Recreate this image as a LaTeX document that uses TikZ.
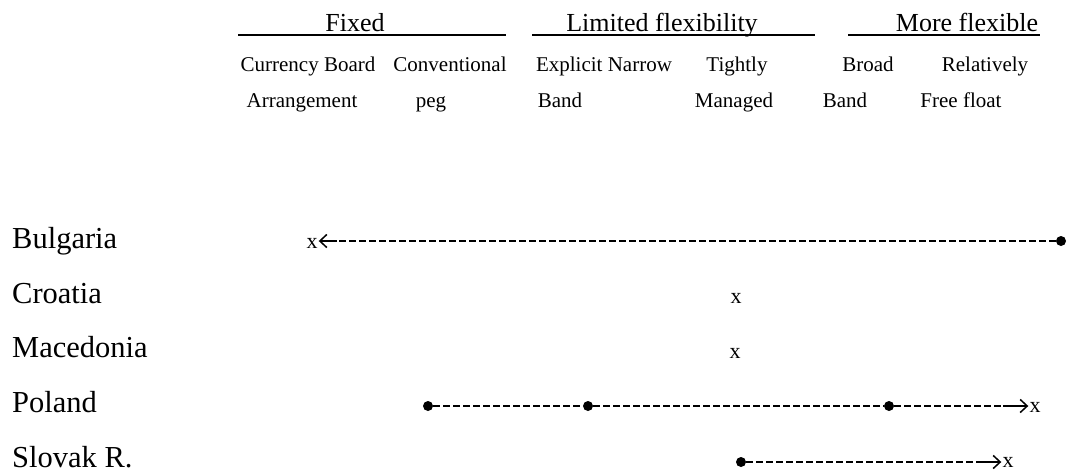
\documentclass[tikz,border=0pt]{standalone}
\usepackage{fontspec}
\setmainfont{Liberation Serif}
\usetikzlibrary{arrows.meta}
\begin{document}
\begin{tikzpicture}[x=1pt,y=-1pt,
  head/.style={anchor=base,inner sep=0pt,font=\fontsize{26}{30}\selectfont},
  sub/.style={anchor=base,inner sep=0pt,font=\fontsize{21}{25}\selectfont},
  country/.style={anchor=base west,inner sep=0pt,font=\fontsize{30.5}{36}\selectfont},
  xmark/.style={anchor=base,inner sep=1pt,font=\fontsize{22}{26}\selectfont},
  dotnode/.style={circle,fill=black,inner sep=0pt,minimum size=10pt},
  rule/.style={line width=2pt},
  dashline/.style={line width=1.8pt,dash pattern=on 7pt off 3pt},
  tip/.style={line width=1.5pt,-{Straight Barb[length=7pt,width=13pt,line width=1.5pt]}}
]
\useasboundingbox (0,0) rectangle (1067,475);
% headers
\node[head] (hfix) at (355,31) {Fixed};
\node[head] (hlim) at (662,31) {Limited flexibility};
\node[head] (hmore) at (967,31) {More flexible};
\draw[rule] (238,34.5) -- (506,34.5);
\draw[rule] (532,34.5) -- (815,34.5);
\draw[rule] (848,34.5) -- (1040,34.5);
% sub labels
\node[sub] (s1a) at (308,71) {Currency Board};
\node[sub] (s2a) at (450,71) {Conventional};
\node[sub] (s3a) at (604,71) {Explicit Narrow};
\node[sub] (s4a) at (737,71) {Tightly};
\node[sub] (s5a) at (868,71) {Broad};
\node[sub] (s6a) at (985,71) {Relatively};
\node[sub] (s1b) at (302,107.5) {Arrangement};
\node[sub] (s2b) at (431,107.5) {peg};
\node[sub] (s3b) at (560,107.5) {Band};
\node[sub] (s4b) at (734,107.5) {Managed};
\node[sub] (s5b) at (845,107.5) {Band};
\node[sub] (s6b) at (961,107.5) {Free float};
% countries
\node[country] (bg) at (12,248) {Bulgaria};
\node[country] (hr) at (12,303) {Croatia};
\node[country] (mk) at (12,357.5) {Macedonia};
\node[country] (pl) at (12,412) {Poland};
\node[country] (sk) at (12,467) {Slovak R.};
% Bulgaria
\node[xmark] (bgx) at (312,248) {x};
\node[dotnode] (bgd) at (1061,241) {};
\coordinate (bgc) at (337,241);
\draw[dashline] (bgd) -- (bgc);
\draw[tip] (bgc) -- (bgx.east |- bgc);
% Croatia, Macedonia
\node[xmark] (hrx) at (736,303) {x};
\node[xmark] (mkx) at (735,358) {x};
% Poland
\node[dotnode] (pl1) at (428,406) {};
\node[dotnode] (pl2) at (588,406) {};
\node[dotnode] (pl3) at (889,406) {};
\node[xmark] (plx) at (1035,412) {x};
\coordinate (plc) at (1003,406);
\draw[dashline] (pl1) -- (pl2);
\draw[dashline] (pl2) -- (pl3);
\draw[dashline] (pl3) -- (plc);
\draw[tip] (plc) -- (plx.west |- plc);
% Slovak R.
\node[dotnode] (sk1) at (741,462) {};
\node[xmark] (skx) at (1008,467) {x};
\coordinate (skc) at (977,462);
\draw[dashline] (sk1) -- (skc);
\draw[tip] (skc) -- (skx.west |- skc);
\end{tikzpicture}
\end{document}
